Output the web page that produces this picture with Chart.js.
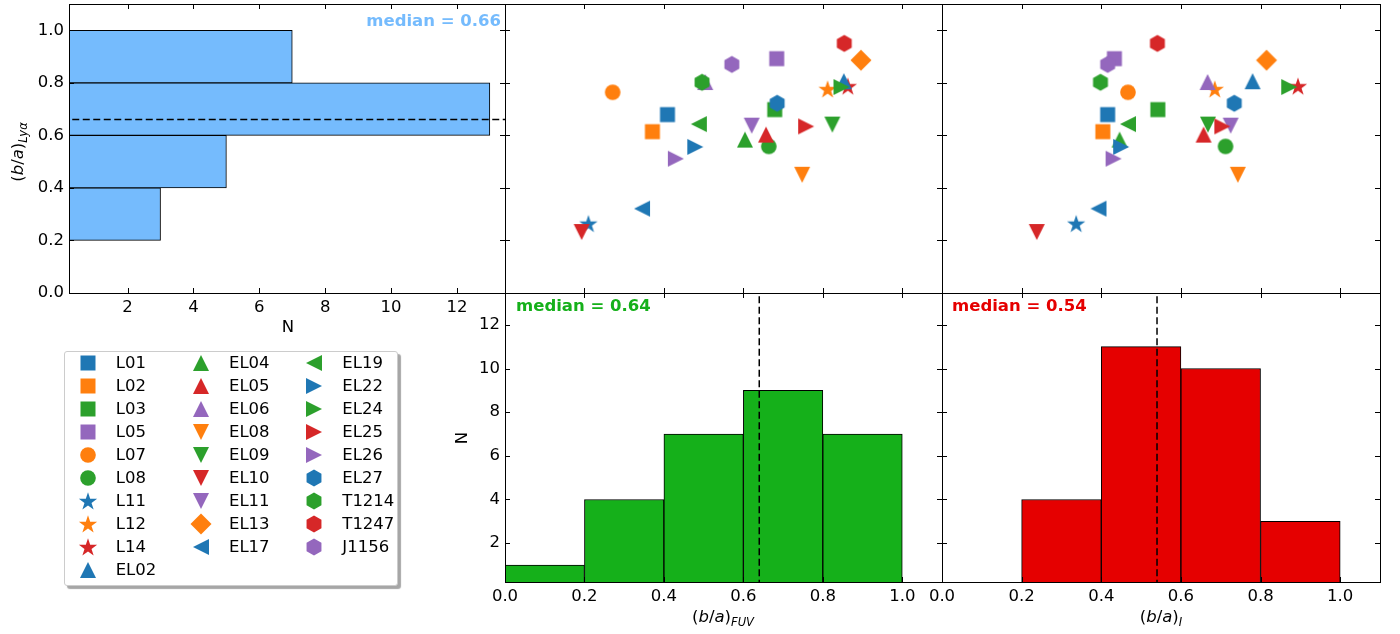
<!DOCTYPE html>
<html>
<head>
<meta charset="utf-8">
<script src="https://cdn.jsdelivr.net/npm/chart.js@4.4.0/dist/chart.umd.min.js"></script>
<style>
  body { margin: 0; background: #fff; }
  #wrap { position: relative; width: 1400px; height: 634px; overflow: hidden; }
  #wrap canvas.panel { position: absolute; left: 0; top: 0; }
  #legend {
    position: absolute; left: 64px; top: 351px; width: 334px; height: 235px;
    box-sizing: border-box; border: 1px solid #cccccc; border-radius: 3px;
    box-shadow: 3px 3px 1px rgba(0, 0, 0, 0.35); background: #fff;
    font-family: 'DejaVu Sans'; font-size: 16.5px; color: #000;
  }
  #legend .item { position: absolute; height: 22px; line-height: 22px; white-space: nowrap; }
  #legend .item canvas { position: absolute; left: 0; top: -1px; }
  #legend .item span { position: absolute; left: 40px; top: 0; }
</style>
</head>
<body>
<div id="wrap">
  <canvas class="panel" id="histLya" width="1400" height="634"></canvas>
  <canvas class="panel" id="scatFuv" width="1400" height="634"></canvas>
  <canvas class="panel" id="scatI" width="1400" height="634"></canvas>
  <canvas class="panel" id="histFuv" width="1400" height="634"></canvas>
  <canvas class="panel" id="histI" width="1400" height="634"></canvas>
  <div id="legend"></div>
</div>
<script>
// Galaxies and their markers
const NAMES = ['L01', 'L02', 'L03', 'L05', 'L07', 'L08', 'L11', 'L12', 'L14',
  'EL02', 'EL04', 'EL05', 'EL06', 'EL08', 'EL09', 'EL10', 'EL11', 'EL13',
  'EL17', 'EL19', 'EL22', 'EL24', 'EL25', 'EL26', 'EL27', 'T1214', 'T1247', 'J1156'];
const SHAPES = ['s', 's', 's', 's', 'o', 'o', '*', '*', '*',
  '^', '^', '^', '^', 'v', 'v', 'v', 'v', 'D',
  '<', '<', '>', '>', '>', '>', 'h', 'h', 'h', 'h'];
const COLORS = ['blue', 'orange', 'green', 'purple', 'orange', 'green', 'blue', 'orange', 'red',
  'blue', 'green', 'red', 'purple', 'orange', 'green', 'red', 'purple', 'orange',
  'blue', 'green', 'blue', 'green', 'red', 'purple', 'blue', 'green', 'red', 'purple'];

// axis ratios
const BA_FUV = [0.409, 0.371, 0.679, 0.684, 0.271, 0.664, 0.210, 0.812, 0.863,
  0.853, 0.604, 0.657, 0.504, 0.748, 0.824, 0.193, 0.621, 0.896,
  0.345, 0.488, 0.479, 0.847, 0.758, 0.430, 0.685, 0.496, 0.854, 0.571];
const BA_LYA = [0.679, 0.614, 0.698, 0.892, 0.764, 0.558, 0.264, 0.776, 0.787,
  0.806, 0.584, 0.603, 0.803, 0.450, 0.641, 0.232, 0.637, 0.886,
  0.321, 0.643, 0.556, 0.784, 0.634, 0.511, 0.722, 0.802, 0.950, 0.870];
const BA_I = [0.416, 0.404, 0.542, 0.433, 0.467, 0.712, 0.337, 0.685, 0.894,
  0.780, 0.446, 0.657, 0.667, 0.743, 0.668, 0.238, 0.725, 0.815,
  0.393, 0.467, 0.450, 0.872, 0.704, 0.431, 0.734, 0.398, 0.541, 0.416];

// histograms (bin centres, width 0.2)
const LYA_BINS = [0.3, 0.5, 0.7, 0.9];
const LYA_COUNTS = [3, 5, 13, 7];
const FUV_BINS = [0.1, 0.3, 0.5, 0.7, 0.9];
const FUV_COUNTS = [1, 4, 7, 9, 7];
const I_BINS = [0.3, 0.5, 0.7, 0.9];
const I_COUNTS = [4, 11, 10, 3];
const MED_LYA = 0.66;
const MED_FUV = 0.64;
const MED_I = 0.54;

// ticks
const BA_TICKS = [0, 0.2, 0.4, 0.6, 0.8, 1.0];
const N_TICKS = [2, 4, 6, 8, 10, 12];

const TAB = { blue: '#1f77b4', orange: '#ff7f0e', green: '#2ca02c', red: '#d62728', purple: '#9467bd' };
const FONT = 'DejaVu Sans';
const SIZE = 16.5;

// Build marker images
function markerCanvas(shape, color) {
  const c = document.createElement('canvas');
  c.width = 24; c.height = 24;
  const g = c.getContext('2d');
  g.translate(12, 12);
  g.fillStyle = color;
  g.beginPath();
  const poly = pts => { pts.forEach((p, i) => i ? g.lineTo(p[0], p[1]) : g.moveTo(p[0], p[1])); g.closePath(); };
  if (shape === 's') g.rect(-7.5, -7.5, 15, 15);
  else if (shape === 'o') g.arc(0, 0, 7.8, 0, Math.PI * 2);
  else if (shape === '^') poly([[0, -8], [8, 8], [-8, 8]]);
  else if (shape === 'v') poly([[0, 8], [8, -8], [-8, -8]]);
  else if (shape === '<') poly([[-8, 0], [8, -8], [8, 8]]);
  else if (shape === '>') poly([[8, 0], [-8, -8], [-8, 8]]);
  else if (shape === 'D') poly([[0, -10.5], [10.5, 0], [0, 10.5], [-10.5, 0]]);
  else if (shape === 'h') {
    const pts = [];
    for (let k = 0; k < 6; k++) {
      const a = -Math.PI / 2 + k * Math.PI / 3;
      pts.push([8.6 * Math.cos(a), 8.6 * Math.sin(a)]);
    }
    poly(pts);
  } else if (shape === '*') {
    const pts = [];
    for (let k = 0; k < 10; k++) {
      const r = k % 2 ? 3.7 : 9.6;
      const a = -Math.PI / 2 + k * Math.PI / 5;
      pts.push([r * Math.cos(a), r * Math.sin(a) + 0.8]);
    }
    poly(pts);
  }
  g.fill();
  return c;
}
const MARKER_IMGS = NAMES.map((n, i) => markerCanvas(SHAPES[i], TAB[COLORS[i]]));

// (b/a) with a subscript
function drawMath(ctx, sub) {
  const segs = [['(', false], ['b', true], ['/', false], ['a', true], [')', false]];
  const big = SIZE + 'px "' + FONT + '"';
  const small = 'italic ' + (SIZE * 0.7) + 'px "' + FONT + '"';
  let w = 0;
  segs.forEach(s => { ctx.font = (s[1] ? 'italic ' : '') + big; w += ctx.measureText(s[0]).width; });
  ctx.font = small;
  const sw = ctx.measureText(sub).width;
  let x = -(w + sw) / 2;
  ctx.textAlign = 'left';
  segs.forEach(s => {
    ctx.font = (s[1] ? 'italic ' : '') + big;
    ctx.fillText(s[0], x, 0);
    x += ctx.measureText(s[0]).width;
  });
  ctx.font = small;
  ctx.fillText(sub, x, 5);
}

// Frame with inward ticks on all sides
const panelFrame = {
  id: 'panelFrame',
  afterDatasetsDraw(chart) {
    const { ctx, chartArea: a, scales } = chart;
    const len = 5;
    ctx.save();
    ctx.strokeStyle = '#000';
    ctx.lineWidth = 1;
    ctx.strokeRect(a.left + 0.5, a.top + 0.5, a.right - a.left, a.bottom - a.top);
    ctx.beginPath();
    scales.x.ticks.forEach(t => {
      const px = Math.round(scales.x.getPixelForValue(t.value)) + 0.5;
      ctx.moveTo(px, a.bottom); ctx.lineTo(px, a.bottom - len);
      ctx.moveTo(px, a.top); ctx.lineTo(px, a.top + len);
    });
    scales.y.ticks.forEach(t => {
      const py = Math.round(scales.y.getPixelForValue(t.value)) + 0.5;
      ctx.moveTo(a.left, py); ctx.lineTo(a.left + len, py);
      ctx.moveTo(a.right, py); ctx.lineTo(a.right - len, py);
    });
    ctx.stroke();
    ctx.restore();
  }
};

// Free text: medians and axis titles
const texts = {
  id: 'texts',
  afterDraw(chart, args, opts) {
    const ctx = chart.ctx;
    (opts.items || []).forEach(it => {
      ctx.save();
      ctx.translate(it.x, it.y);
      if (it.rotate) ctx.rotate(it.rotate);
      ctx.fillStyle = it.color || '#000';
      ctx.textBaseline = 'middle';
      if (it.math) {
        drawMath(ctx, it.math);
      } else {
        ctx.font = (it.bold ? 'bold ' : '') + SIZE + 'px "' + FONT + '"';
        ctx.textAlign = it.align || 'center';
        ctx.fillText(it.text, 0, 0);
      }
      ctx.restore();
    });
  }
};

// size = room the axis takes outside the plot area (its labels are clipped to it)
function axis(min, max, ticks, labels, fmt, pad, size) {
  return {
    type: 'linear', min: min, max: max, offset: false,
    afterBuildTicks: s => { s.ticks = ticks.map(v => ({ value: v })); },
    afterFit: s => {
      if (s.isHorizontal()) s.height = size; else s.width = size;
      s.paddingTop = s.paddingBottom = s.paddingLeft = s.paddingRight = 0;
    },
    grid: { display: false, drawTicks: false, offset: false },
    border: { display: false },
    ticks: {
      display: labels, autoSkip: false, maxRotation: 0, minRotation: 0, padding: pad,
      font: { family: FONT, size: SIZE }, color: '#000', callback: fmt
    }
  };
}
const fmt1 = v => v.toFixed(1);
const fmt0 = v => String(v);

function baseOptions(padding, scales, textItems) {
  return {
    responsive: false, animation: false, events: [],
    layout: { padding: padding, autoPadding: false },
    scales: scales,
    plugins: { legend: { display: false }, tooltip: { enabled: false }, texts: { items: textItems } }
  };
}

const COL = [69, 505, 942, 1380];
const ROW = [4, 293, 582];
const W = 1400, H = 634;
const XLAB = 36;   // room under a panel for x tick labels

// Lya histogram (horizontal)
const optLya = baseOptions(
  { left: 0, right: W - COL[1], top: ROW[0], bottom: H - ROW[1] - XLAB },
  { x: axis(0.22, 13.46, N_TICKS, true, fmt0, 4.5, XLAB), y: axis(0, 1.1, BA_TICKS, true, fmt1, 5, COL[0]) },
  [
    { text: 'median = ' + MED_LYA.toFixed(2), x: 501, y: 22, bold: true, align: 'right', color: '#75bbfd' },
    { text: 'N', x: 288, y: 328 },
    { math: 'Lyα', x: 19, y: 152, rotate: -Math.PI / 2 }
  ]);
optLya.indexAxis = 'y';
new Chart(document.getElementById('histLya'), {
  type: 'bar',
  data: {
    datasets: [
      {
        type: 'line', indexAxis: 'y',
        data: [{ x: 0, y: MED_LYA }, { x: 14, y: MED_LYA }],
        borderColor: '#000', borderWidth: 1.5, borderDash: [7, 3.5], pointRadius: 0
      },
      {
        type: 'bar', indexAxis: 'y',
        data: LYA_BINS.map((b, i) => ({ x: LYA_COUNTS[i], y: b })),
        backgroundColor: '#75bbfd', borderColor: '#000', borderWidth: 1,
        borderSkipped: false, barPercentage: 1, categoryPercentage: 1
      }
    ]
  },
  options: optLya,
  plugins: [panelFrame, texts]
});

// Scatter panels
function scatterSets(xs) {
  return NAMES.map((name, i) => ({
    label: name,
    data: [{ x: xs[i], y: BA_LYA[i] }],
    pointStyle: MARKER_IMGS[i],
    pointRadius: 9,
    order: NAMES.length - i
  }));
}
new Chart(document.getElementById('scatFuv'), {
  type: 'scatter',
  data: { datasets: scatterSets(BA_FUV) },
  options: baseOptions(
    { left: COL[1], right: W - COL[2], top: ROW[0], bottom: H - ROW[1] },
    { x: axis(0, 1.1, BA_TICKS, false, fmt1, 3, 0), y: axis(0, 1.1, BA_TICKS, false, fmt1, 5, 0) },
    []),
  plugins: [panelFrame, texts]
});
new Chart(document.getElementById('scatI'), {
  type: 'scatter',
  data: { datasets: scatterSets(BA_I) },
  options: baseOptions(
    { left: COL[2], right: W - COL[3], top: ROW[0], bottom: H - ROW[1] },
    { x: axis(0, 1.1, BA_TICKS, false, fmt1, 3, 0), y: axis(0, 1.1, BA_TICKS, false, fmt1, 5, 0) },
    []),
  plugins: [panelFrame, texts]
});

// Vertical histograms
function histChart(id, bins, counts, median, color, left, right, ylab, textItems) {
  return new Chart(document.getElementById(id), {
    type: 'bar',
    data: {
      datasets: [
        {
          type: 'line',
          data: [{ x: median, y: 0 }, { x: median, y: 14 }],
          borderColor: '#000', borderWidth: 1.5, borderDash: [7, 3.5], pointRadius: 0
        },
        {
          type: 'bar',
          data: bins.map((b, i) => ({ x: b, y: counts[i] })),
          backgroundColor: color, borderColor: '#000', borderWidth: 1,
          borderSkipped: false, barPercentage: 1, categoryPercentage: 1
        }
      ]
    },
    options: baseOptions(
      { left: left - ylab, right: W - right, top: ROW[1], bottom: H - ROW[2] - XLAB },
      { x: axis(0, 1.1, BA_TICKS, true, fmt1, 4.5, XLAB), y: axis(0.22, 13.46, N_TICKS, ylab > 0, fmt0, 5, ylab) },
      textItems),
    plugins: [panelFrame, texts]
  });
}
histChart('histFuv', FUV_BINS, FUV_COUNTS, MED_FUV, '#15b01a', COL[1], COL[2], 40, [
  { text: 'median = ' + MED_FUV.toFixed(2), x: 516, y: 307, bold: true, align: 'left', color: '#15b01a' },
  { text: 'N', x: 463, y: 438, rotate: -Math.PI / 2 },
  { math: 'FUV', x: 723, y: 618 }
]);
histChart('histI', I_BINS, I_COUNTS, MED_I, '#e50000', COL[2], COL[3], 0, [
  { text: 'median = ' + MED_I.toFixed(2), x: 952, y: 307, bold: true, align: 'left', color: '#e50000' },
  { math: 'I', x: 1161, y: 618 }
]);

// Legend: three columns, filled column by column
const legend = document.getElementById('legend');
const ROWS = 10;
NAMES.forEach((name, i) => {
  const col = i < ROWS ? 0 : (i < ROWS + 9 ? 1 : 2);
  const row = col === 0 ? i : (col === 1 ? i - ROWS : i - ROWS - 9);
  const item = document.createElement('div');
  item.className = 'item';
  item.style.left = (10.7 + col * 113.3) + 'px';
  item.style.top = (0.3 + row * 22.96) + 'px';
  const icon = document.createElement('canvas');
  icon.width = 24; icon.height = 24;
  icon.getContext('2d').drawImage(MARKER_IMGS[i], 0, 0);
  const label = document.createElement('span');
  label.textContent = name;
  item.appendChild(icon);
  item.appendChild(label);
  legend.appendChild(item);
});
</script>
</body>
</html>
